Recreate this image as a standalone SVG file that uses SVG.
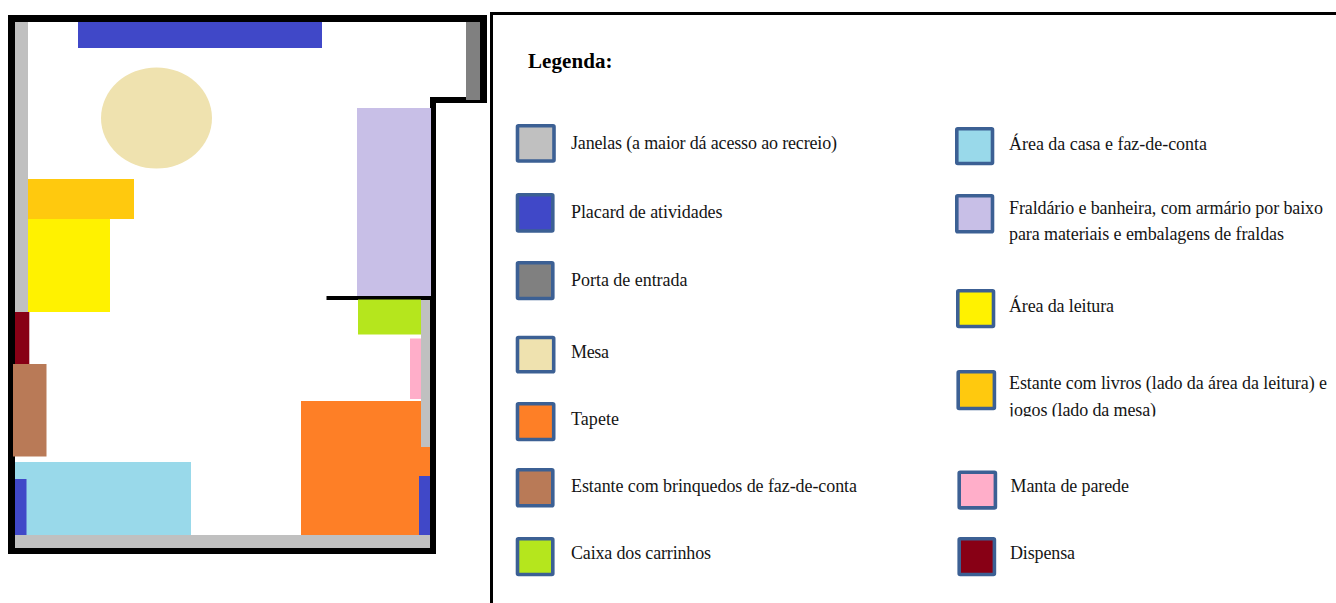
<svg xmlns="http://www.w3.org/2000/svg" width="1336" height="603" viewBox="0 0 1336 603">
<style>
.t{font-family:"Liberation Serif","Times New Roman",serif;font-size:18px;fill:#151515}
.h{font-family:"Liberation Serif","Times New Roman",serif;font-size:21px;font-weight:bold;fill:#000}
.s{stroke:#3c6094;stroke-width:3.6}
.w{fill:#000}
.win{fill:#c0c0c0}
.board{fill:#4048c8}
.rug{fill:#fe7f26}
</style>
<defs><clipPath id="clip"><rect x="1000" y="395" width="200" height="21.5"/></clipPath></defs>
<rect width="1336" height="603" fill="#fff"/>
<g id="plan">
<path id="walls" class="w" fill-rule="evenodd" d="M8 15H487V103H436V554H8ZM15 22V548H430V97H480V22Z"/>
<g id="janelas">
<rect class="win" x="15" y="22" width="13" height="290"/>
<rect class="win" x="421" y="299" width="9" height="148"/>
<rect class="win" x="15" y="535" width="415" height="13"/>
</g>
<rect id="placard-topo" class="board" x="78" y="22" width="244" height="26"/>
<rect id="porta" x="466" y="22" width="14" height="78" fill="#808080"/>
<ellipse id="mesa" cx="156.500" cy="118" rx="55.500" ry="50.500" fill="#efe2af"/>
<rect id="estante-livros" x="28" y="179" width="106" height="40" fill="#ffc90e"/>
<rect id="area-leitura" x="28" y="219" width="82" height="93" fill="#fff200"/>
<rect id="fraldario" x="357" y="108" width="74" height="188" fill="#c8bfe7"/>
<rect id="divisoria" x="326.500" y="296" width="104.500" height="4" class="w"/>
<rect id="caixa-carrinhos" x="358" y="299.500" width="63" height="35" fill="#b5e61d"/>
<rect id="manta" x="410" y="338.500" width="11" height="60.500" fill="#ffaec9"/>
<g id="tapete">
<rect class="rug" x="301" y="401" width="120" height="134"/>
<rect class="rug" x="418" y="447" width="12" height="30"/>
</g>
<rect id="placard-direito" class="board" x="419" y="476" width="11" height="59"/>
<rect id="dispensa" x="15" y="312" width="14.300" height="53" fill="#880015"/>
<rect id="estante-brinquedos" x="13" y="364" width="33.500" height="92.500" fill="#b97a57"/>
<rect id="area-casa" x="15" y="462" width="176" height="73" fill="#99d9ea"/>
<rect id="placard-esquerdo" class="board" x="15" y="479" width="11.500" height="56"/>
</g>
<g id="legenda">
<path d="M491.500 603V13.500H1336" fill="none" stroke="#000" stroke-width="3"/>
<text class="h" x="528" y="68" textLength="84.500">Legenda:</text>
<g id="l-janelas"><rect class="s" x="517.500" y="125.800" width="36.500" height="35.200" rx="1" fill="#c0c0c0"/><text class="t" x="571" y="149" textLength="266">Janelas (a maior dá acesso ao recreio)</text></g>
<g id="l-placard"><rect class="s" x="517.500" y="194.800" width="35.300" height="36.200" rx="1" fill="#4048c8"/><text class="t" x="571" y="218" textLength="151.500">Placard de atividades</text></g>
<g id="l-porta"><rect class="s" x="517.500" y="262.800" width="35.300" height="35.700" rx="1" fill="#808080"/><text class="t" x="571" y="286" textLength="116.500">Porta de entrada</text></g>
<g id="l-mesa"><rect class="s" x="517.500" y="337.500" width="36.200" height="34.200" rx="1" fill="#efe2af"/><text class="t" x="571" y="358" textLength="38">Mesa</text></g>
<g id="l-tapete"><rect class="s" x="517.500" y="403.800" width="36.200" height="35.700" rx="1" fill="#fe7f26"/><text class="t" x="571" y="424.500" textLength="48">Tapete</text></g>
<g id="l-estante-brinquedos"><rect class="s" x="517.500" y="469.800" width="35.300" height="36" rx="1" fill="#b97a57"/><text class="t" x="571" y="492" textLength="286">Estante com brinquedos de faz-de-conta</text></g>
<g id="l-caixa"><rect class="s" x="517.500" y="538.800" width="35.300" height="35.700" rx="1" fill="#b5e61d"/><text class="t" x="571" y="559" textLength="140">Caixa dos carrinhos</text></g>
<g id="l-casa"><rect class="s" x="956.800" y="128.800" width="35.700" height="34.700" rx="1" fill="#99d9ea"/><text class="t" x="1009" y="150" textLength="198">Área da casa e faz-de-conta</text></g>
<g id="l-fraldario"><rect class="s" x="956.800" y="195.800" width="35.700" height="36" rx="1" fill="#c8bfe7"/><text class="t" x="1009" y="214" textLength="314">Fraldário e banheira, com armário por baixo</text><text class="t" x="1009" y="240" textLength="275">para materiais e embalagens de fraldas</text></g>
<g id="l-leitura"><rect class="s" x="957.800" y="290.800" width="35.700" height="35.700" rx="1" fill="#fff200"/><text class="t" x="1009" y="312" textLength="105">Área da leitura</text></g>
<g id="l-estante-livros"><rect class="s" x="958.200" y="371.800" width="36.200" height="36.700" rx="1" fill="#ffc90e"/><text class="t" x="1009" y="389" textLength="318">Estante com livros (lado da área da leitura) e</text><text class="t" x="1009" y="415.700" textLength="147" clip-path="url(#clip)">jogos (lado da mesa)</text></g>
<g id="l-manta"><rect class="s" x="959.200" y="472.200" width="36.200" height="35.700" rx="1" fill="#ffaec9"/><text class="t" x="1010.500" y="492" textLength="118.500">Manta de parede</text></g>
<g id="l-dispensa"><rect class="s" x="959.200" y="538.800" width="35.200" height="35.700" rx="1" fill="#880015"/><text class="t" x="1010" y="559" textLength="65">Dispensa</text></g>
</g>
</svg>
